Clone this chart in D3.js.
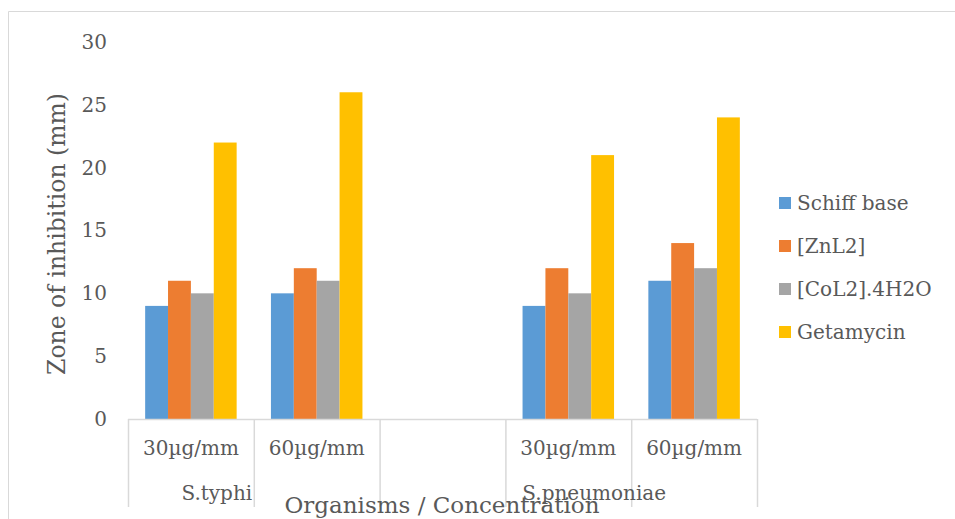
<!DOCTYPE html>
<html>
<head>
<meta charset="utf-8">
<script src="https://cdn.jsdelivr.net/npm/d3@7"></script>
<style>
  html, body { margin: 0; padding: 0; background: #fff; overflow: hidden; }
  svg text { font-family: "DejaVu Serif", Georgia, serif; fill: #595959; }
</style>
</head>
<body>
<svg id="chart" width="955" height="519"></svg>
<script>
'use strict';

// categories (the empty one is a blank slot between the two organisms)
var concentrations = ["30µg/mm", "60µg/mm", "", "30µg/mm", "60µg/mm"];
var organisms = ["S.typhi", "S.typhi", "", "S.pneumoniae", "S.pneumoniae"];

var seriesNames = ["Schiff base", "[ZnL2]", "[CoL2].4H2O", "Getamycin"];
var seriesColors = ["#5B9BD5", "#ED7D31", "#A5A5A5", "#FFC000"];

var schiffBase = [9, 10, null, 9, 11];
var znL2 = [11, 12, null, 12, 14];
var coL2 = [10, 11, null, 10, 12];
var getamycin = [22, 26, null, 21, 24];

var yTicks = [0, 5, 10, 15, 20, 25, 30];

var seriesValues = [schiffBase, znL2, coL2, getamycin];

var svg = d3.select("#chart"),
  width = 955,
  height = 519;

var plot = { left: 128, right: 757, top: 42, bottom: 419 };

// chart area frame
svg.append("path")
  .attr("d", "M8.5," + height + "V11.5H" + width)
  .attr("fill", "none")
  .attr("stroke", "#D9D9D9")
  .attr("stroke-width", 1);

var x = d3.scaleBand()
  .domain(d3.range(concentrations.length))
  .range([plot.left, plot.right]);

var xSub = d3.scaleBand()
  .domain(seriesNames)
  .range([0, x.bandwidth()])
  .paddingOuter(0.75);

var y = d3.scaleLinear()
  .domain([0, 30])
  .range([plot.bottom, plot.top]);

// bars
var groups = svg.append("g")
  .attr("class", "bars")
  .selectAll("g")
  .data(seriesNames)
  .enter().append("g")
  .attr("fill", function(d, i) { return seriesColors[i]; });

groups.selectAll("rect")
  .data(function(d, i) {
    return seriesValues[i].map(function(v, c) {
      return { series: d, cat: c, value: v };
    }).filter(function(p) { return p.value !== null; });
  })
  .enter().append("rect")
  .attr("x", function(d) { return x(d.cat) + xSub(d.series); })
  .attr("width", xSub.bandwidth())
  .attr("y", function(d) { return y(d.value); })
  .attr("height", function(d) { return y(0) - y(d.value); });

// y axis labels (no line, no gridlines)
var yAxis = svg.append("g")
  .attr("transform", "translate(107,0)")
  .call(d3.axisLeft(y).tickValues(yTicks).tickSize(0).tickPadding(0));
yAxis.select(".domain").remove();
yAxis.selectAll("text")
  .attr("font-size", 20)
  .attr("font-family", null)
  .attr("fill", null);

// category axis
svg.append("line")
  .attr("x1", plot.left)
  .attr("x2", plot.right)
  .attr("y1", y(0) + 0.5)
  .attr("y2", y(0) + 0.5)
  .attr("stroke", "#D9D9D9")
  .attr("stroke-width", 1.5);

// separator lines between category slots
svg.append("g")
  .selectAll("line")
  .data(d3.range(concentrations.length + 1))
  .enter().append("line")
  .attr("x1", function(i) { return (i < concentrations.length ? x(i) : plot.right) + 0.5; })
  .attr("x2", function(i) { return (i < concentrations.length ? x(i) : plot.right) + 0.5; })
  .attr("y1", y(0))
  .attr("y2", 507)
  .attr("stroke", "#D9D9D9")
  .attr("stroke-width", 1.5);

svg.append("g")
  .selectAll("text")
  .data(concentrations)
  .enter().append("text")
  .attr("x", function(d, i) { return x(i) + x.bandwidth() / 2; })
  .attr("y", 455)
  .attr("text-anchor", "middle")
  .attr("font-size", 20)
  .text(function(d) { return d; });

// organism labels, under the middle of their categories
var organismNames = organisms.filter(function(d, i) {
  return d !== "" && organisms.indexOf(d) === i;
});

svg.append("g")
  .selectAll("text")
  .data(organismNames)
  .enter().append("text")
  .attr("x", function(d) {
    var idx = d3.range(organisms.length).filter(function(i) { return organisms[i] === d; });
    var mid = (x(idx[0]) + x(idx[idx.length - 1]) + x.bandwidth()) / 2;
    return mid - 37;
  })
  .attr("y", 500)
  .attr("text-anchor", "middle")
  .attr("font-size", 20)
  .text(function(d) { return d; });

// axis titles
svg.append("text")
  .attr("x", 442)
  .attr("y", 513)
  .attr("text-anchor", "middle")
  .attr("font-size", 23)
  .text("Organisms / Concentration");

svg.append("text")
  .attr("transform", "translate(65,234) rotate(-90)")
  .attr("text-anchor", "middle")
  .attr("font-size", 23.5)
  .text("Zone of inhibition (mm)");

// legend
var legend = svg.append("g")
  .attr("class", "legend")
  .attr("transform", "translate(779,203)")
  .selectAll("g")
  .data(seriesNames)
  .enter().append("g")
  .attr("transform", function(d, i) { return "translate(0," + (i * 43) + ")"; });

legend.append("rect")
  .attr("x", 0)
  .attr("y", -6)
  .attr("width", 12)
  .attr("height", 12)
  .attr("fill", function(d, i) { return seriesColors[i]; });

legend.append("text")
  .attr("x", 18)
  .attr("y", 7)
  .attr("font-size", 20)
  .text(function(d) { return d; });
</script>
</body>
</html>
